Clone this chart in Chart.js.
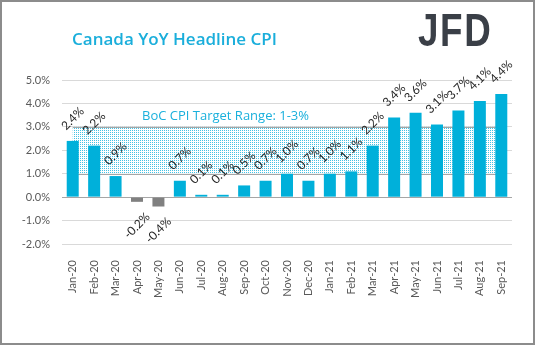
<!DOCTYPE html>
<html>
<head>
<meta charset="utf-8">
<script src="https://cdn.jsdelivr.net/npm/chart.js@4/dist/chart.umd.min.js"></script>
<style>
  html, body { margin: 0; padding: 0; background: #fff; }
  #wrap { position: relative; width: 537px; height: 347px; overflow: hidden; }
  #frame { position: absolute; left: 0; top: 0; width: 535px; height: 345px; box-sizing: border-box; border: 2px solid #8c8c8c; pointer-events: none; }
  #title { position: absolute; left: 72px; top: 27px; font: 600 17px "Open Sans", sans-serif; color: #1aaedb; white-space: nowrap; }
  #logo { position: absolute; left: 418px; top: 3px; font: bold 46px "Liberation Sans", Arial, sans-serif; color: #3a3f47; transform: scaleX(0.8); transform-origin: left top; letter-spacing: 2px; }
  canvas { position: absolute; left: 0; top: 0; }
</style>
</head>
<body>
<div id="wrap">
  <canvas id="c" width="537" height="347"></canvas>
  <div id="title">Canada YoY Headline CPI</div>
  <div id="logo">JFD</div>
  <div id="frame"></div>
</div>
<script>
const categories = ["Jan-20","Feb-20","Mar-20","Apr-20","May-20","Jun-20","Jul-20","Aug-20","Sep-20","Oct-20","Nov-20","Dec-20","Jan-21","Feb-21","Mar-21","Apr-21","May-21","Jun-21","Jul-21","Aug-21","Sep-21"];
const cpiYoY = [2.4, 2.2, 0.9, -0.2, -0.4, 0.7, 0.1, 0.1, 0.5, 0.7, 1.0, 0.7, 1.0, 1.1, 2.2, 3.4, 3.6, 3.1, 3.7, 4.1, 4.4];
const targetRange = [1, 3];
const bandLabel = "BoC CPI Target Range: 1-3%";
const yTicks = [-2, -1, 0, 1, 2, 3, 4, 5];

const CYAN = '#00b0da';
const GRAY = '#808080';

function makePattern(ctx) {
  const p = document.createElement('canvas');
  p.width = 2; p.height = 2;
  const pc = p.getContext('2d');
  pc.fillStyle = '#ffffff';
  pc.fillRect(0, 0, 2, 2);
  pc.fillStyle = '#45c2e4';
  pc.fillRect(0, 0, 1, 1);
  return ctx.createPattern(p, 'repeat');
}

const bandPlugin = {
  id: 'band',
  beforeDatasetsDraw(chart) {
    const { ctx, scales: { x, y } } = chart;
    const x0 = x.getPixelForValue(0);
    const x1 = x.getPixelForValue(categories.length - 1);
    const yTop = y.getPixelForValue(targetRange[1]);
    const yBot = y.getPixelForValue(targetRange[0]);
    ctx.save();
    ctx.fillStyle = makePattern(ctx);
    ctx.fillRect(x0, yTop, x1 - x0, yBot - yTop);
    ctx.strokeStyle = '#a6a6a6';
    ctx.lineWidth = 1;
    ctx.beginPath();
    ctx.moveTo(x0, Math.round(yTop) + 0.5); ctx.lineTo(x1, Math.round(yTop) + 0.5);
    ctx.moveTo(x0, Math.round(yBot) + 0.5); ctx.lineTo(x1, Math.round(yBot) + 0.5);
    ctx.stroke();
    ctx.fillStyle = '#1ab0dc';
    ctx.font = '13px "Open Sans", sans-serif';
    ctx.textAlign = 'left';
    ctx.textBaseline = 'middle';
    ctx.fillText(bandLabel, x.getPixelForValue(3) + 5, y.getPixelForValue(3.45));
    ctx.restore();
  }
};

const labelPlugin = {
  id: 'vlabels',
  afterDatasetsDraw(chart) {
    const { ctx } = chart;
    const meta = chart.getDatasetMeta(0);
    ctx.save();
    ctx.font = '12px Lato, "Liberation Sans", sans-serif';
    ctx.fillStyle = '#262626';
    ctx.textAlign = 'center';
    ctx.textBaseline = 'middle';
    meta.data.forEach((bar, i) => {
      const v = cpiYoY[i];
      const txt = v.toFixed(1) + '%';
      const w = ctx.measureText(txt).width;
      const off = 13 + w / 2 * 0.707;
      const yy = v >= 0 ? bar.y - off : bar.y + off;
      ctx.save();
      ctx.translate(bar.x, yy);
      ctx.rotate(-Math.PI / 4);
      ctx.fillText(txt, 0, 0);
      ctx.restore();
    });
    ctx.restore();
  }
};

new Chart(document.getElementById('c'), {
  type: 'bar',
  data: {
    labels: categories,
    datasets: [{
      data: cpiYoY,
      backgroundColor: cpiYoY.map(v => v >= 0 ? CYAN : GRAY),
      categoryPercentage: 1,
      barPercentage: 0.56
    }]
  },
  options: {
    responsive: false,
    animation: false,
    layout: { padding: { top: 80, right: 25, left: 0, bottom: 0 } },
    plugins: { legend: { display: false }, tooltip: { enabled: false } },
    scales: {
      x: {
        grid: { display: false },
        border: { display: false },
        ticks: {
          color: '#595959',
          font: { size: 11, family: 'Lato, "Liberation Sans", sans-serif' },
          minRotation: 90, maxRotation: 90, autoSkip: false, padding: 8
        },
        afterFit(s) { s.height = 103; }
      },
      y: {
        min: -2, max: 5,
        afterBuildTicks(s) { s.ticks = yTicks.map(v => ({ value: v })); },
        ticks: {
          color: '#595959',
          font: { size: 11, family: 'Lato, "Liberation Sans", sans-serif' },
          padding: 12,
          callback: v => v.toFixed(1) + '%'
        },
        grid: {
          drawTicks: false,
          color: c => c.tick && c.tick.value === 0 ? '#a6a6a6' : '#d9d9d9'
        },
        border: { display: false },
        afterFit(s) { s.width = 62; }
      }
    }
  },
  plugins: [bandPlugin, labelPlugin]
});
</script>
</body>
</html>
